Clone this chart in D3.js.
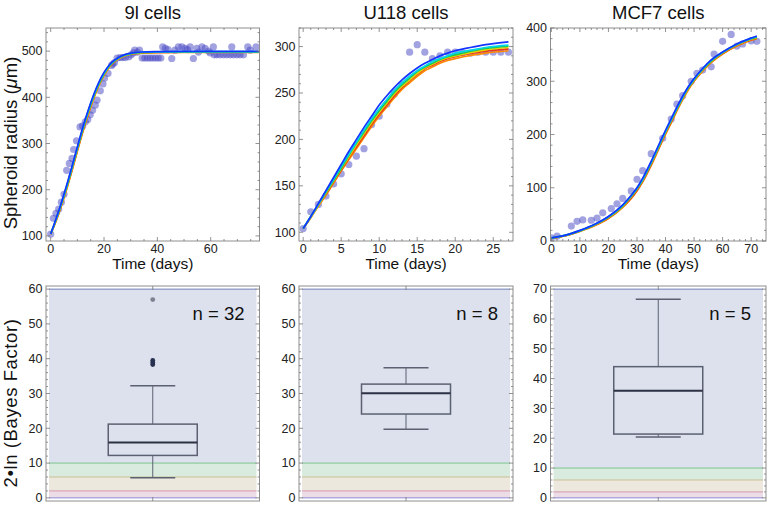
<!DOCTYPE html>
<html><head><meta charset="utf-8">
<script src="https://cdn.jsdelivr.net/npm/d3@7"></script>
<style>body{margin:0;background:#fff}svg{display:block;font-family:"Liberation Sans",Arial,Helvetica,sans-serif}</style>
</head><body><svg id="c" width="769" height="506"></svg>
<script>
// ---------------- DATA ----------------
const titles = ["9l cells", "U118 cells", "MCF7 cells"];
const nLabels = ["n = 32", "n = 8", "n = 5"];
const modelColors = ["#ff8a00", "#e8321e", "#e6d200", "#1ec84a", "#00d6e6", "#1434ff"]; // orange, red, yellow, green, cyan, blue

// 9l cells observations
const c9lDays = [0,1,2,3,4,5,6,7,8,8.6,9.7,11,12,13,13.9,14.8,15.7,16.7,17.4,18.6,19.6,20.2,21.5,22.8,23.3,23.9,24.9,26,27,28,29.3,30.2,31,31.5,32.5,33.3,34.3,35.3,36.3,37.3,38.3,39.3,40.3,41.3,42,43,44,45.4,46.6,47.9,49.2,50.4,51.3,52.3,53.5,54.8,55.4,56.7,57.9,59.1,59.8,61,61.3,62.3,63.5,64.8,66,67.3,67.9,68.5,69.8,71,72.3,73.9,74.8,77];
const c9lRadius = [104,138,149,158,173,190,242,257,268,287,306,336,338,347,352,362,372,383,394,414,429,442,452,469,472,475,485,486,486,486,488,492,496,502,498,502,485,485,485,485,485,485,485,485,509,506,503,484,502,509,509,506,503,509,484,506,498,509,506,500,496,509,492,492,492,492,492,492,509,492,492,492,492,509,502,509];
const c9lFitDays = [0,2,4,6,8,10,12,14,16,18,20,22,24,26,28,30,34,40,50,60,78];
const c9lFitOrange = [104,132,165,201,241,283,324,361,395,424,447,465,477,485,490,493.5,495.5,496.5,497,497,497];
const c9lFitRed    = [104,133,166,203,243,285,326,363,397,426,449,466,478,486,491,494,496,497,497.5,497.5,497.5];
const c9lFitYellow = [104,134,167,204,245,287,328,365,398,427,450,467,479,486,491,494,496.5,497.5,498,498,498];
const c9lFitGreen  = [104,135,169,206,247,289,330,367,400,428,451,468,479,487,491.5,494.5,497,498,498.5,498.5,498.5];
const c9lFitCyan   = [104,136,170,208,249,291,332,369,402,430,452,469,480,487,492,495,497.5,498.5,499,499,499];
const c9lFitBlue   = [104,137,172,210,251,293,334,371,404,432,454,470,481,488,493,495.5,498,499,499.5,499.5,499.5];

// U118 cells observations
const u118Days = [0,1,2,3,4,5,6,7,8,9,10,11,12,13,14,15,16,17,18,19,20,21,22,23,24,25,26,27];
const u118Radius = [104,122,130,139,152,163,173,182,190,216,225,238,249,259,294,302,294,287,290,294,294,293,293,294,294,294,294,294];
const u118FitDays = [0,1,2,3,4,5,6,7,8,9,10,11,12,13,14,15,16,17,18,19,20,22,24,27];
const u118FitOrange = [104,116,128,140,153,166,178,190,202,214,225,235,245,254,261,268,274,278,282,285,287,290.5,293,295.5];
const u118FitRed    = [104,116,129,141,154,167,180,192,204,216,227,237,247,256,263,270,276,280,284,287,289,292.5,295,297.5];
const u118FitYellow = [104,116,129,142,155,168,181,194,206,218,229,239,249,257,264,271,277,281,285,288,290,293.5,296.5,299];
const u118FitGreen  = [104,117,130,143,156,169,183,196,208,220,231,241,251,259,266,273,278,282,286,289,291,295,298,300.5];
const u118FitCyan   = [104,117,130,144,157,171,184,197,210,222,233,243,253,261,268,274,279,284,287,290,293,296,299,301.5];
const u118FitBlue   = [104,117,131,145,159,173,187,200,213,225,237,247,256,264,271,277,282,286,290,293,295.5,299,302,305];

// MCF7 cells observations
const mcf7Days = [0,2,7,9,11,14,16,18,21,23,25,28,30,32,35,39,42,44,46,49,51,53,56,57,60,63,65,67,70,72];
const mcf7Radius = [6,9,28,37,39.5,39,43,53,61,70,80,94,116,132,164,193,229,257,273,300,315,321,327,351,375,388,366,370,376,375];
const mcf7FitDays = [0,5,10,15,20,25,28,30,32,35,38,40,42,45,48,50,53,56,60,65,70,72];
const mcf7FitOrange = [5,10,18,28,42,63,80,94,111,142,177,200,222,255,284,300,319,335,351,366,377,380];
const mcf7FitRed    = [5,10,18.5,29,43,64,81,95,112,144,179,202,224,257,286,301,320,336,352,367,378,381];
const mcf7FitYellow = [5.5,10.5,19,29.5,44,65,83,97,114,146,181,204,226,258,287,302,321,337,353,368,379,382];
const mcf7FitGreen  = [5.5,10.5,19,30,45,66,84,98,115,147,182,205,227,259,288,303,322,338,354,369,380,383];
const mcf7FitCyan   = [6,11,19.5,30.5,45.5,67,85,99,116,148,183,206,228,260,289,304,323,339,354.5,369.5,380.5,384];
const mcf7FitBlue   = [6,11,20,31,46,68,86,100,118,150,185,208,230,262,290,305,324,340,355,370,381,385];

// Tick labels
const c9lXTicks = [0,20,40,60], c9lYTicks = [100,200,300,400,500];
const u118XTicks = [0,5,10,15,20,25], u118YTicks = [100,150,200,250,300];
const mcf7XTicks = [0,10,20,30,40,50,60,70], mcf7YTicks = [0,100,200,300,400];
const bfYTicks60 = [0,10,20,30,40,50,60], bfYTicks70 = [0,10,20,30,40,50,60,70];

// Bayes factor evidence bands (lower, upper)
const bandEdges = [0, 2, 6, 10];
// Box-whisker stats: [lower whisker, Q1, median, Q3, upper whisker]
const bf9l = [5.8, 12.2, 15.9, 21.2, 32.2];
const bf9lNearOutliers = [38.3, 38.9, 39.5];
const bf9lFarOutliers = [57];
const bfU118 = [19.7, 24.1, 30.1, 32.7, 37.4];
const bfMcf7 = [20.4, 21.4, 35.9, 44.0, 66.6];

// ---------------- DRAW ----------------
const svg = d3.select("#c");
const frames = [[46, 259.5], [299, 513], [550.5, 766]];
const topYR = [241, 28], botYR = [501, 286];
const frameColor = "#8e8e8e";

const topPanels = [
  {days: c9lDays, vals: c9lRadius, fx: c9lFitDays, fits: [c9lFitOrange,c9lFitRed,c9lFitYellow,c9lFitGreen,c9lFitCyan,c9lFitBlue],
   xDom: [-1.76, 78.3], yDom: [89, 550], xt: c9lXTicks, yt: c9lYTicks, xm: 5, ym: 20},
  {days: u118Days, vals: u118Radius, fx: u118FitDays, fits: [u118FitOrange,u118FitRed,u118FitYellow,u118FitGreen,u118FitCyan,u118FitBlue],
   xDom: [-0.55, 27.6], yDom: [90.6, 320], xt: u118XTicks, yt: u118YTicks, xm: 1, ym: 10},
  {days: mcf7Days, vals: mcf7Radius, fx: mcf7FitDays, fits: [mcf7FitOrange,mcf7FitRed,mcf7FitYellow,mcf7FitGreen,mcf7FitCyan,mcf7FitBlue],
   xDom: [-0.3, 75.2], yDom: [0, 400], xt: mcf7XTicks, yt: mcf7YTicks, xm: 2, ym: 20}
];

function minorTicks(dom, step, majors) {
  const a = Math.ceil(dom[0] / step) * step;
  return d3.range(a, dom[1] + 1e-9, step).filter(v => !majors.some(m => Math.abs(m - v) < 1e-9));
}

function drawFrame(g, x, y, xt, xm, yt, ym, xLabels) {
  const [x0, x1] = x.range(), [y0, y1] = y.range();
  g.append("rect").attr("x", x0).attr("y", y1).attr("width", x1 - x0).attr("height", y0 - y1)
    .attr("fill", "none").attr("stroke", frameColor).attr("stroke-width", 1);
  const tk = g.append("g").attr("stroke", "#777").attr("stroke-width", 0.8);
  const xMin = xm ? minorTicks(x.domain(), xm, xt) : [];
  const yMin = minorTicks(y.domain(), ym, yt);
  xt.forEach(v => { const px = x(v);
    tk.append("line").attr("x1", px).attr("x2", px).attr("y1", y0).attr("y2", y0 - 4);
    tk.append("line").attr("x1", px).attr("x2", px).attr("y1", y1).attr("y2", y1 + 4); });
  xMin.forEach(v => { const px = x(v);
    tk.append("line").attr("x1", px).attr("x2", px).attr("y1", y0).attr("y2", y0 - 2);
    tk.append("line").attr("x1", px).attr("x2", px).attr("y1", y1).attr("y2", y1 + 2); });
  yt.forEach(v => { const py = y(v);
    tk.append("line").attr("x1", x0).attr("x2", x0 + 4).attr("y1", py).attr("y2", py);
    tk.append("line").attr("x1", x1).attr("x2", x1 - 4).attr("y1", py).attr("y2", py); });
  yMin.forEach(v => { const py = y(v);
    tk.append("line").attr("x1", x0).attr("x2", x0 + 2).attr("y1", py).attr("y2", py);
    tk.append("line").attr("x1", x1).attr("x2", x1 - 2).attr("y1", py).attr("y2", py); });
  g.append("g").selectAll("text").data(yt).join("text")
    .attr("x", x0 - 3.5).attr("y", d => y(d) + 4.3).attr("text-anchor", "end")
    .attr("font-size", 12.5).attr("fill", "#222").text(d => d);
  if (xLabels) g.append("g").selectAll("text").data(xt).join("text")
    .attr("x", d => x(d)).attr("y", y0 + 12).attr("text-anchor", "middle")
    .attr("font-size", 12.5).attr("fill", "#222").text(d => d);
}

topPanels.forEach((p, i) => {
  const g = svg.append("g");
  const x = d3.scaleLinear().domain(p.xDom).range(frames[i]);
  const y = d3.scaleLinear().domain(p.yDom).range(topYR);
  const clipId = "clip" + i;
  svg.append("clipPath").attr("id", clipId).append("rect")
    .attr("x", frames[i][0]).attr("y", topYR[1]).attr("width", frames[i][1] - frames[i][0]).attr("height", topYR[0] - topYR[1]);
  const pg = g.append("g").attr("clip-path", `url(#${clipId})`);
  pg.append("g").selectAll("circle").data(p.days.map((d, k) => [d, p.vals[k]])).join("circle")
    .attr("cx", d => x(d[0])).attr("cy", d => y(d[1])).attr("r", 3.6)
    .attr("fill", "rgb(70,70,195)").attr("fill-opacity", 0.5);
  const line = d3.line().x(d => x(d[0])).y(d => y(d[1])).curve(d3.curveMonotoneX);
  p.fits.forEach((f, m) => {
    pg.append("path").attr("d", line(p.fx.map((d, k) => [d, f[k]])))
      .attr("fill", "none").attr("stroke", modelColors[m]).attr("stroke-width", 1.7);
  });
  drawFrame(g, x, y, p.xt, p.xm, p.yt, p.ym, true);
  const cx = (frames[i][0] + frames[i][1]) / 2;
  g.append("text").attr("x", cx).attr("y", 19).attr("text-anchor", "middle").attr("font-size", 18.5).attr("fill", "#111").text(titles[i]);
  g.append("text").attr("x", cx).attr("y", 269).attr("text-anchor", "middle").attr("font-size", 15.5).attr("fill", "#111").text("Time (days)");
});

// y labels
const yl1 = svg.append("text").attr("transform", "translate(17,143) rotate(-90)").attr("text-anchor", "middle")
  .attr("font-size", 18.5).attr("fill", "#111");
yl1.append("tspan").text("Spheroid radius (");
yl1.append("tspan").attr("font-style", "italic").text("μ");
yl1.append("tspan").text("m)");
svg.append("text").attr("transform", "translate(17,403) rotate(-90)").attr("text-anchor", "middle")
  .attr("font-size", 18.5).attr("letter-spacing", 0.6).attr("fill", "#111").text("2•ln (Bayes Factor)");

// bottom panels
const botPanels = [
  {stats: bf9l, near: bf9lNearOutliers, far: bf9lFarOutliers, yDom: [-0.9, 60.9], yt: bfYTicks60, top: 60},
  {stats: bfU118, near: [], far: [], yDom: [-0.9, 60.9], yt: bfYTicks60, top: 60},
  {stats: bfMcf7, near: [], far: [], yDom: [-1.05, 71.05], yt: bfYTicks70, top: 70}
];
const bandFills = ["#ecdce6", "#ece8dd", "#d9ebdf"];
const bandLines = ["#8c8cd8", "#d696b0", "#c9c096", "#7dc68e"];
const topFill = "#dde1ed", topLine = "#6f80b8";

botPanels.forEach((p, i) => {
  const g = svg.append("g");
  const x = d3.scaleLinear().domain([0, 1]).range(frames[i]);
  const y = d3.scaleLinear().domain(p.yDom).range(botYR);
  const bx0 = frames[i][0] + 3, bx1 = frames[i][1] - 3;
  const edges = bandEdges.concat([p.top]);
  const fills = bandFills.concat([topFill]);
  for (let k = 0; k < edges.length - 1; k++) {
    g.append("rect").attr("x", bx0).attr("width", bx1 - bx0)
      .attr("y", y(edges[k + 1])).attr("height", y(edges[k]) - y(edges[k + 1])).attr("fill", fills[k]);
  }
  const lineCols = bandLines.concat([topLine]);
  edges.forEach((e, k) => {
    g.append("line").attr("x1", bx0).attr("x2", bx1).attr("y1", y(e)).attr("y2", y(e))
      .attr("stroke", lineCols[k]).attr("stroke-width", 1);
  });
  // box-whisker
  const cx = (frames[i][0] + frames[i][1]) / 2;
  const s = p.stats, bw = 89, cw = 45;
  const bg = g.append("g");
  bg.append("line").attr("x1", cx).attr("x2", cx).attr("y1", y(s[0])).attr("y2", y(s[1])).attr("stroke", "#5b6172").attr("stroke-width", 1);
  bg.append("line").attr("x1", cx).attr("x2", cx).attr("y1", y(s[3])).attr("y2", y(s[4])).attr("stroke", "#5b6172").attr("stroke-width", 1);
  [s[0], s[4]].forEach(v => bg.append("line").attr("x1", cx - cw / 2).attr("x2", cx + cw / 2).attr("y1", y(v)).attr("y2", y(v))
    .attr("stroke", "#5b6172").attr("stroke-width", 1.5));
  bg.append("rect").attr("x", cx - bw / 2).attr("width", bw).attr("y", y(s[3])).attr("height", y(s[1]) - y(s[3]))
    .attr("fill", "none").attr("stroke", "#5b6172").attr("stroke-width", 1.5);
  bg.append("line").attr("x1", cx - bw / 2).attr("x2", cx + bw / 2).attr("y1", y(s[2])).attr("y2", y(s[2]))
    .attr("stroke", "#2c3244").attr("stroke-width", 2);
  bg.selectAll("circle.near").data(p.near).join("circle").attr("cx", cx).attr("cy", d => y(d)).attr("r", 2.4).attr("fill", "#26304f");
  bg.selectAll("circle.far").data(p.far).join("circle").attr("cx", cx).attr("cy", d => y(d)).attr("r", 2.4).attr("fill", "#7c8292");
  drawFrame(g, x, y, [0.5], 0, p.yt, 2, false);
  g.append("text").attr("x", frames[i][1] - 15).attr("y", 320).attr("text-anchor", "end")
    .attr("font-size", 18.5).attr("fill", "#111").text(nLabels[i]);
});
</script></body></html>
